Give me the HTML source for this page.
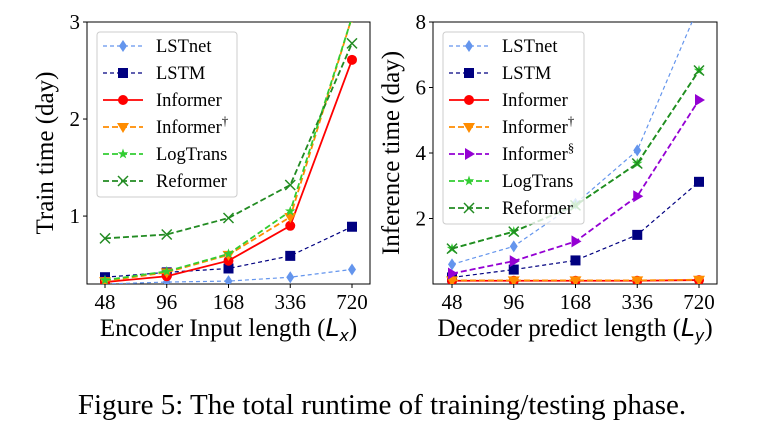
<!DOCTYPE html>
<html><head><meta charset="utf-8"><style>
body{margin:0;background:#fff;}
svg text{font-family:"Liberation Serif",serif;fill:#000;}
</style></head><body>
<svg id="fig" width="764" height="432" viewBox="0 0 764 432" xmlns="http://www.w3.org/2000/svg">
<defs>
<clipPath id="clipL"><rect x="87" y="22" width="283" height="262"/></clipPath>
<clipPath id="clipR"><rect x="433" y="22" width="284" height="262"/></clipPath>
</defs>
<text x="382" y="414" text-anchor="middle" font-size="29">Figure 5: The total runtime of training/testing phase.</text>
</svg>
<script>
const categories=["48","96","168","336","720"];
const leftYTicks=[1,2,3];
const rightYTicks=[2,4,6,8];
const trainLSTnet=[0.30,0.32,0.33,0.37,0.45];
const trainLSTM=[0.37,0.42,0.46,0.59,0.89];
const trainInformer=[0.32,0.38,0.54,0.90,2.61];
const trainInformerDagger=[0.33,0.42,0.60,0.99,3.05];
const trainLogTrans=[0.34,0.43,0.61,1.05,3.05];
const trainReformer=[0.77,0.81,0.98,1.32,2.78];
const inferLSTnet=[0.60,1.15,2.45,4.08,8.5];
const inferLSTM=[0.20,0.44,0.72,1.50,3.12];
const inferInformer=[0.10,0.10,0.10,0.10,0.12];
const inferInformerDagger=[0.11,0.11,0.11,0.11,0.13];
const inferInformerS=[0.32,0.70,1.30,2.68,5.62];
const inferLogTrans=[1.08,1.60,2.40,3.68,6.52];
const inferReformer=[1.08,1.60,2.40,3.68,6.52];

const NS="http://www.w3.org/2000/svg";
const svg=document.getElementById('fig');
function mk(tag,attrs,parent){const e=document.createElementNS(NS,tag);for(const k in attrs)e.setAttribute(k,attrs[k]);(parent||svg).appendChild(e);return e;}

const styles={
 LSTnet:{c:"#6495ed",w:1.2,d:"4,3",m:"diamond"},
 LSTM:{c:"#000080",w:1.2,d:"4,3",m:"square"},
 Informer:{c:"#ff0000",w:1.8,d:"",m:"circle"},
 InformerD:{c:"#ff8c00",w:1.8,d:"6,3",m:"tridown"},
 InformerS:{c:"#9400d3",w:1.8,d:"6,3",m:"triright"},
 LogTrans:{c:"#32cd32",w:1.8,d:"6,3",m:"star"},
 Reformer:{c:"#228b22",w:1.8,d:"6,3",m:"x"}
};
function marker(g,type,x,y,c){
 if(type==="diamond")mk('polygon',{points:`${x},${y-6} ${x+4},${y} ${x},${y+6} ${x-4},${y}`,fill:c},g);
 else if(type==="square")mk('rect',{x:x-5,y:y-5,width:10,height:10,fill:c},g);
 else if(type==="circle")mk('circle',{cx:x,cy:y,r:5,fill:c},g);
 else if(type==="tridown")mk('polygon',{points:`${x-6},${y-4} ${x+6},${y-4} ${x},${y+6}`,fill:c},g);
 else if(type==="triright")mk('polygon',{points:`${x-4},${y-6} ${x-4},${y+6} ${x+6},${y}`,fill:c},g);
 else if(type==="star"){let p=[];for(let i=0;i<10;i++){const r=i%2?2.2:5.5;const a=-Math.PI/2+i*Math.PI/5;p.push((x+r*Math.cos(a)).toFixed(1)+","+(y+r*Math.sin(a)).toFixed(1));}mk('polygon',{points:p.join(" "),fill:c},g);}
 else if(type==="x"){mk('path',{d:`M${x-5},${y-5}L${x+5},${y+5}M${x-5},${y+5}L${x+5},${y-5}`,stroke:c,'stroke-width':1.5,fill:'none'},g);}
}
function panel(cfg){
 const {x0,x1,y0,y1,ymin,ymax,xs,ticks,series,clip,ylabel,xlabel,xlabelSub,legend,name}=cfg;
 const Y=v=>y1-(v-ymin)/(ymax-ymin)*(y1-y0);
 const X=i=>xs[0]+i*(xs[1]-xs[0])/(categories.length-1);
 const g=mk('g',{});
 
 
 const ax=mk('rect',{x:x0,y:y0,width:x1-x0,height:y1-y0,fill:'none',stroke:'#000','stroke-width':1},g);
 
 ticks.forEach(t=>{const yy=Y(t);mk('line',{x1:x0-4,x2:x0,y1:yy,y2:yy,stroke:'#000'},g);
  const tx=mk('text',{x:x0-7,y:yy+7,'text-anchor':'end','font-size':21},g);tx.textContent=t;
  });
 categories.forEach((c,i)=>{const xx=X(i);mk('line',{x1:xx,x2:xx,y1:y1,y2:y1+4,stroke:'#000'},g);
  const tx=mk('text',{x:xx,y:y1+25,'text-anchor':'middle','font-size':21},g);tx.textContent=c;
  });
 const yl=mk('text',{x:0,y:0,transform:`translate(${x0-34},${(y0+y1)/2}) rotate(-90)`,'text-anchor':'middle','font-size':25},g);yl.textContent=ylabel;
 
 const xl=mk('text',{x:(x0+x1)/2,y:y1+52,'text-anchor':'middle','font-size':25},g);
 
 xl.innerHTML=xlabel+' (<tspan font-family="DejaVu Sans" font-style="italic">L</tspan><tspan font-family="DejaVu Sans" font-style="italic" font-size="16" dy="5">'+xlabelSub+'</tspan><tspan dy="-5">)</tspan>';
 const pg=mk('g',{'clip-path':`url(#${clip})`},g);
 series.forEach(s=>{const st=styles[s.k];
  const sg=mk('g',{},pg);
  const pts=s.v.map((v,i)=>X(i)+","+Y(v)).join(" ");
  mk('polyline',{points:pts,fill:'none',stroke:st.c,'stroke-width':st.w,'stroke-dasharray':st.d},sg);
  s.v.forEach((v,i)=>marker(sg,st.m,X(i),Y(v),st.c));});
 const L=legend;
 const lg=mk('g',{},g);
 mk('rect',{x:L.x,y:L.y,width:L.w,height:L.h,rx:3,fill:'#fff','fill-opacity':0.8,stroke:'#ccc'},lg);
 series.forEach((s,i)=>{const st=styles[s.k];const yy=L.y+14+i*27;
  const eg=mk('g',{},lg);
  mk('line',{x1:L.x+6,x2:L.x+46,y1:yy,y2:yy,stroke:st.c,'stroke-width':st.w,'stroke-dasharray':st.d},eg);
  marker(eg,st.m,L.x+26,yy,st.c);
  const t=mk('text',{x:L.x+59,y:yy+6,'font-size':18.5},eg);t.innerHTML=s.label;});
}
panel({name:'train-time-chart',x0:87,x1:370,y0:22,y1:284,ymin:0.3,ymax:3,xs:[105,352],ticks:leftYTicks,clip:'clipL',
 ylabel:'Train time (day)',xlabel:'Encoder Input length',xlabelSub:'x',legend:{x:97,y:32,w:140,h:165},
 series:[{k:'LSTnet',label:'LSTnet',v:trainLSTnet},{k:'LSTM',label:'LSTM',v:trainLSTM},{k:'Informer',label:'Informer',v:trainInformer},
 {k:'InformerD',label:'Informer<tspan font-size="13" dy="-8">†</tspan>',v:trainInformerDagger},{k:'LogTrans',label:'LogTrans',v:trainLogTrans},{k:'Reformer',label:'Reformer',v:trainReformer}]});
panel({name:'inference-time-chart',x0:433,x1:717,y0:22,y1:284,ymin:0.0,ymax:8,xs:[452,699],ticks:rightYTicks,clip:'clipR',
 ylabel:'Inference time (day)',xlabel:'Decoder predict length',xlabelSub:'y',legend:{x:443,y:32,w:141,h:192},
 series:[{k:'LSTnet',label:'LSTnet',v:inferLSTnet},{k:'LSTM',label:'LSTM',v:inferLSTM},{k:'Informer',label:'Informer',v:inferInformer},
 {k:'InformerD',label:'Informer<tspan font-size="13" dy="-8">†</tspan>',v:inferInformerDagger},{k:'InformerS',label:'Informer<tspan font-size="13" dy="-8">§</tspan>',v:inferInformerS},
 {k:'LogTrans',label:'LogTrans',v:inferLogTrans},{k:'Reformer',label:'Reformer',v:inferReformer}]});
</script>
</body></html>
